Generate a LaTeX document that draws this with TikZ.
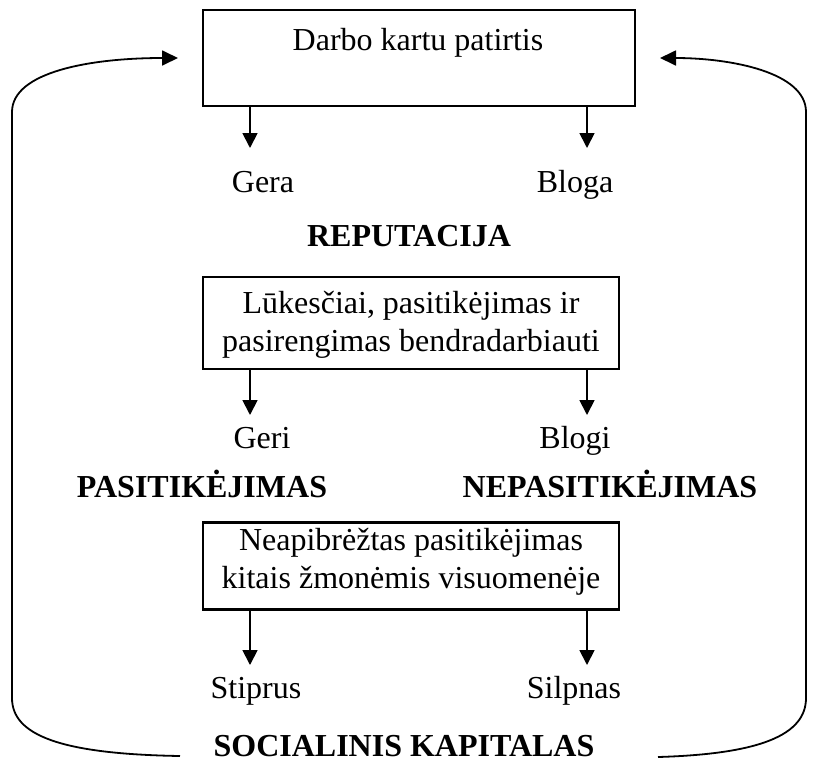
\documentclass[tikz,border=0pt]{standalone}
\usepackage{fontspec}
\setmainfont{Liberation Serif}
\usetikzlibrary{arrows.meta}
\begin{document}
\begin{tikzpicture}[x=1pt,y=-1pt,
  every node/.style={font=\fontsize{32}{38}\selectfont, inner sep=0pt},
  box/.style={draw, line width=2.6pt, inner sep=0pt},
  txt/.style={anchor=base, align=center},
  head/.style={anchor=base, font=\fontsize{32}{38}\selectfont\bfseries},
  down/.style={line width=1.8pt, -{Triangle[length=15pt,width=15pt]}},
  loophead/.style={line width=1.8pt, -{Triangle[length=16pt,width=15pt]}},
]
\useasboundingbox (0,0) rectangle (816,772);

% --- boxes ---
\node[box, minimum width=432pt, minimum height=96pt] (box1) at (419,58) {};
\node[box, minimum width=416pt, minimum height=92pt] (box2) at (411,323) {};
\node[box, minimum width=416pt, minimum height=87pt] (box3) at (411,566) {};

% --- box texts (base anchor sits on the last line) ---
\node[txt] (t1) at (418,50) {Darbo kartu patirtis};
\node[txt] (t2) at (411,351) {Lūkesčiai, pasitikėjimas ir\\pasirengimas bendradarbiauti};
\node[txt] (t3) at (411,588) {Neapibrėžtas pasitikėjimas\\kitais žmonėmis visuomenėje};

% --- labels ---
\node[txt] (gera)  at (263,192) {Gera};
\node[txt] (bloga) at (575,192) {Bloga};
\node[head] (rep)  at (409,246) {REPUTACIJA};

\node[txt] (geri)  at (262,448) {Geri};
\node[txt] (blogi) at (575,448) {Blogi};
\node[head] (pas)  at (202,497) {PASITIKĖJIMAS};
\node[head] (nepas) at (610,497) {NEPASITIKĖJIMAS};

\node[txt] (stip) at (256,698) {Stiprus};
\node[txt] (silp) at (574,698) {Silpnas};
\node[head] (soc) at (404,756) {SOCIALINIS KAPITALAS};

% --- arrow tips below the boxes ---
\coordinate (a1) at (250,148);
\coordinate (b1) at (587,148);
\coordinate (a2) at (250,415);
\coordinate (b2) at (587,415);
\coordinate (a3) at (250,665);
\coordinate (b3) at (587,665);

\draw[down] (box1.south -| a1) -- (a1);
\draw[down] (box1.south -| b1) -- (b1);
\draw[down] (box2.south -| a2) -- (a2);
\draw[down] (box2.south -| b2) -- (b2);
\draw[down] (box3.south -| a3) -- (a3);
\draw[down] (box3.south -| b3) -- (b3);

% --- feedback loops ---
\coordinate (ls) at (180,756);
\coordinate (le) at (178,58);
\coordinate (rs) at (658,757);
\coordinate (re) at (660,58);

\draw[loophead] (ls) .. controls (60,754) and (12,735) .. (12,698)
  -- (12,112) .. controls (12,72) and (90,58) .. (le);
\draw[loophead] (rs) .. controls (760,754) and (806,735) .. (806,698)
  -- (806,112) .. controls (806,72) and (730,58) .. (re);
\end{tikzpicture}
\end{document}
